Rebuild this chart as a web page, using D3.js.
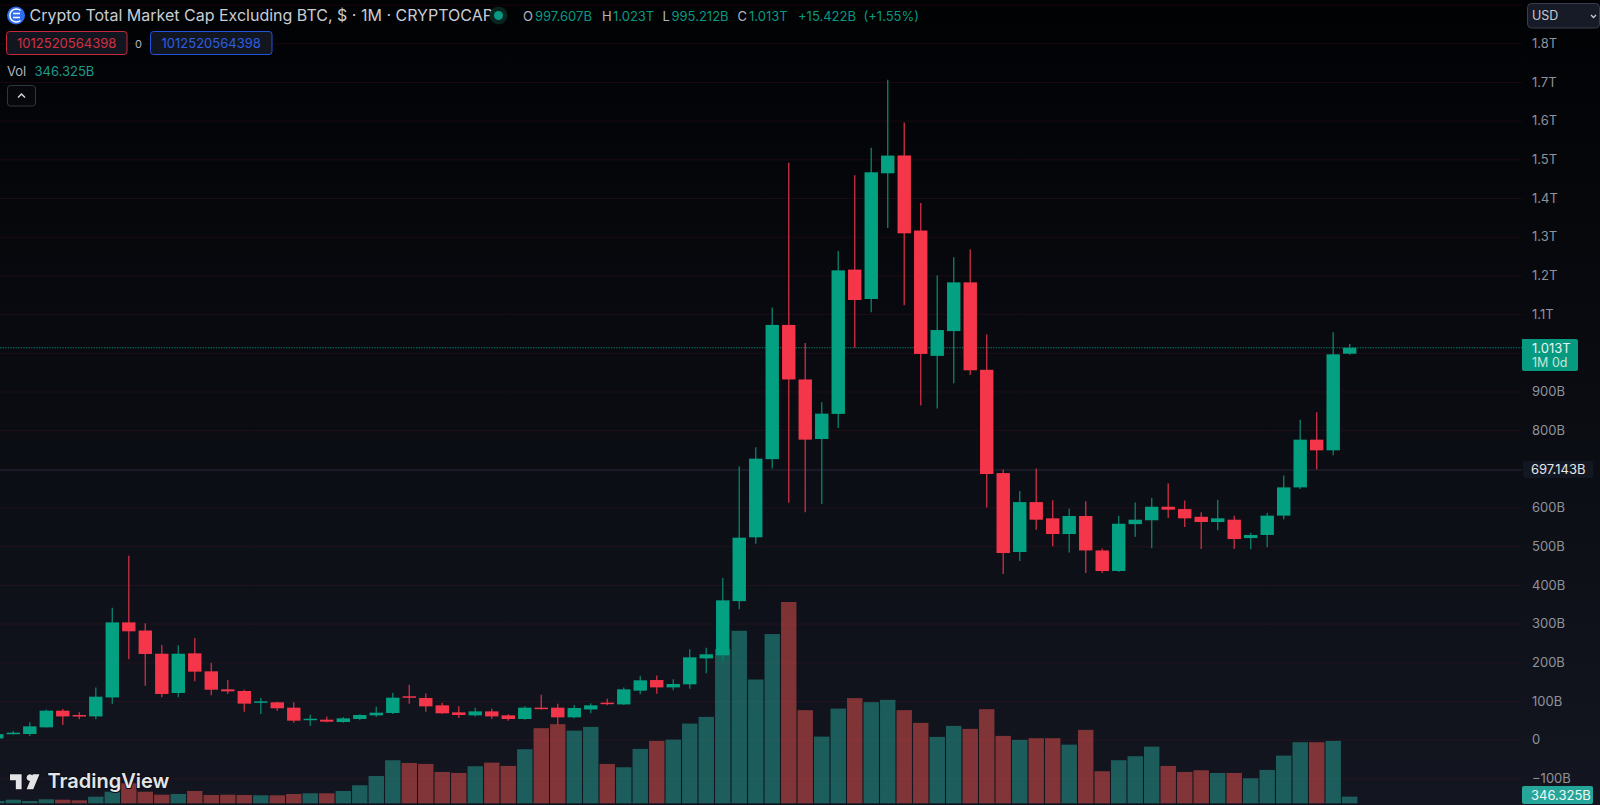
<!DOCTYPE html>
<html>
<head>
<meta charset="utf-8">
<title>Crypto Total Market Cap Excluding BTC</title>
<script src="https://cdn.jsdelivr.net/npm/d3@7"></script>
<style>
	html, body { margin: 0; padding: 0; background: #000; overflow: hidden; }
	svg { display: block; }
	text { font-family: Inter, "Noto Sans", sans-serif; }
</style>
</head>
<body>
<div id="chart"></div>
<script>
// monthly candles, values in billions, May 2017 -> Mar 2024
var opens = [3,14,14.5,31.7,74.8,63.6,60,109,303,282,222,120.5,223,176.5,130,125.7,95.5,96.4,82.6,50.7,51.5,45.5,53.3,62.7,68.8,
	112,107.6,88.6,70.5,62.7,73,62.7,53.3,82.6,82.6,57.6,78,95.5,91,126.5,154,135,142.9,210,218,358,523,725,1072,931,777,842,1215,
	1139,1464,1510,1316,992,1056,1182,956,689,485,614,572,531.5,578,489,436,557,567,602,596,576,562.5,568.5,521,529,579,652,775.4,747.8,997.6];
var highs = [16,22,44.6,78,79,70.5,135,341,475.6,300.7,244.6,243.8,262.7,198,154,129,107.6,98,96.4,64.5,60,58.4,65.3,85,121.4,
	142,119,95.5,86,82.6,80,65.3,86,116,93,89.5,93.8,105.8,135,165.3,166,155.8,233.4,237.7,418,706,755.6,1117,1491,1025,872,1263,1459,
	1530,1706,1595,1387,1200,1247,1267,1047,698,643,701,619,597,616,494,579,613,625,662.5,618,587.5,620,579,535,586.6,683,827,846,1053,1023];
var lows = [2,13,9.3,31,37.7,52.4,52.4,92,207.6,139.5,109.3,109.3,150.7,114.5,118,72.2,66.2,74.8,43.8,35,44.6,43.8,49.8,58.4,66.2,
	93,72.2,67,55.8,60,53.3,49,51.5,78,36.9,55,68,88.6,89.5,117,118.8,127.4,131.7,171.4,200.6,337,506.5,701,612,587.5,609,805.6,1013,
	1105,1322.6,1122.6,864,856,921,942.6,600,428,461.6,542.7,499.6,484,430.6,430.6,433,524.6,494.4,572.8,549.6,492.7,541,492.7,491.8,497,569.4,647.8,698.7,735,995.2];
var closes = [14,18,34.3,74.8,60,61,111,303,280,221.4,118,222,175.7,129,124.8,93,99,81,49,54,46.4,55,63.6,69.6,108.4,
	108.4,86,68,63.6,73,60,53.3,82.6,79,57.6,81.7,88.6,92,130,153.3,135,143.8,212.7,220.5,360,522,726.3,1072,931,775.4,842.7,1213,1136.4,
	1466.6,1509.7,1308.8,997,1058.8,1182,954.7,686.6,482.3,614,568.5,531.5,578,489,435.8,558,568.5,602,594.4,572,562.5,572,518.5,528.9,579,652,775.4,747.8,996,1013];
var volumes = [120,187,120,208,187,156,343,603,1040,603,447,484,640,432,447,432,416,416,484,520,520,640,936,1420,2236,
	2096,2044,1628,1576,1924,2111,1940,2808,3900,4108,3775,3968,2044,1872,2824,3240,3307,4139,4488,8008,8960,6427,8788,10452,
	4836,3463,4919,5460,5252,5372,4836,4176,3448,4020,3864,4888,3500,3292,
	3380,3380,3047,3812,1664,2236,2444,2943,1940,1628,1716,1576,1576,1300,1732,2475,3172,3172,3240,346];

var gridValues = [-100,0,100,200,300,400,500,600,700,800,900,1000,1100,1200,1300,1400,1500,1600,1700,1800,1900];
var tickValues = [1800,1700,1600,1500,1400,1300,1200,1100,900,800,600,500,400,300,200,100,0,-100];
var tickLabels = ['1.8T','1.7T','1.6T','1.5T','1.4T','1.3T','1.2T','1.1T','900B','800B','600B','500B','400B','300B','200B','100B','0','\u2212100B'];

var lastClose = 1013;
var markedLevel = 697.143;

var ohlcLabels = [
	{x:523, t:'O', c:'#b2b5be'},{x:535, t:'997.607B', c:'#089981'},
	{x:602, t:'H', c:'#b2b5be'},{x:613, t:'1.023T', c:'#089981'},
	{x:662.5, t:'L', c:'#b2b5be'},{x:671.5, t:'995.212B', c:'#089981'},
	{x:737.5, t:'C', c:'#b2b5be'},{x:749, t:'1.013T', c:'#089981'},
	{x:798, t:'+15.422B', c:'#089981'},{x:863.5, t:'(+1.55%)', c:'#089981'}
];

var width = 1600, height = 805, plotRight = 1522;
var upColor = '#04a082', downColor = '#f5364a';
var upWick = '#0b7a68', downWick = '#c22d40';

var svg = d3.select('#chart').append('svg')
	.attr('width',width)
	.attr('height',height);

var grad = svg.append('defs').append('linearGradient')
	.attr('id','bg')
	.attr('x1',0).attr('y1',0).attr('x2',0).attr('y2',1);
grad.append('stop').attr('offset','0%').attr('stop-color','#010204');
grad.append('stop').attr('offset','100%').attr('stop-color','#131620');

svg.append('rect')
	.attr('width',width)
	.attr('height',height)
	.attr('fill','url(#bg)');

var x = d3.scaleLinear().domain([0,opens.length-1]).range([-3.2,1349.7]);
var y = d3.scaleLinear().domain([-100,1800]).range([778.3,43.3]);
var yVol = d3.scaleLinear().domain([0,10452]).range([803.3,602]);
var bodyW = 13.4, volW = 15.4;

// grid
var gridAxis = d3.axisRight(y).tickValues(gridValues).tickSize(plotRight).tickFormat('');
var gridG = svg.append('g').call(gridAxis);
gridG.select('.domain').remove();
gridG.selectAll('line')
	.attr('stroke','#7a1e32')
	.attr('stroke-opacity',0.2);

// marked level and last price lines
svg.append('line')
	.attr('x1',0).attr('x2',plotRight)
	.attr('y1',y(markedLevel)).attr('y2',y(markedLevel))
	.attr('stroke','#1c1f2c')
	.attr('stroke-width',1.6);

// volume
svg.append('g').selectAll('rect')
	.data(volumes)
	.enter()
	.append('rect')
	.attr('x',function(d,i){return x(i)-volW/2;})
	.attr('y',function(d){return yVol(d);})
	.attr('width',volW)
	.attr('height',function(d){return yVol(0)-yVol(d);})
	.attr('fill',function(d,i){return closes[i]>=opens[i] ? '#26a69a' : '#ef5350';})
	.attr('fill-opacity',0.5);

svg.append('line')
	.attr('x1',0).attr('x2',plotRight)
	.attr('y1',y(lastClose)).attr('y2',y(lastClose))
	.attr('stroke','#089981')
	.attr('stroke-opacity',0.85)
	.attr('stroke-dasharray','1.3 1.3');

// candles
var candles = svg.append('g').selectAll('g')
	.data(opens)
	.enter()
	.append('g');

candles.append('line')
	.attr('x1',function(d,i){return x(i);})
	.attr('x2',function(d,i){return x(i);})
	.attr('y1',function(d,i){return y(highs[i]);})
	.attr('y2',function(d,i){return y(lows[i]);})
	.attr('stroke',function(d,i){return closes[i]>=d ? upWick : downWick;})
	.attr('stroke-width',1.4);

candles.append('rect')
	.attr('x',function(d,i){return x(i)-bodyW/2;})
	.attr('y',function(d,i){return y(Math.max(d,closes[i]));})
	.attr('width',bodyW)
	.attr('height',function(d,i){return Math.max(1.5,Math.abs(y(d)-y(closes[i])));})
	.attr('fill',function(d,i){return closes[i]>=d ? upColor : downColor;});

// price axis
var axisG = svg.append('g')
	.attr('transform','translate(1524,0)')
	.call(d3.axisRight(y).tickValues(tickValues).tickSize(0).tickPadding(8)
		.tickFormat(function(d,i){return tickLabels[i];}));
axisG.select('.domain').remove();
axisG.selectAll('text')
	.style('font-family','Inter, sans-serif')
	.style('font-size','13px')
	.attr('fill','#8f929c');

// axis tags
svg.append('path')
	.attr('d','M1522 339H1576a2 2 0 0 1 2 2V369a2 2 0 0 1 -2 2H1524a2 2 0 0 1 -2 -2Z')
	.attr('fill','#069a80');
svg.append('text').attr('x',1532).attr('y',352.5).attr('font-size',13).attr('fill','#e6f3f0').text('1.013T');
svg.append('text').attr('x',1532).attr('y',366.5).attr('font-size',12.5).attr('fill','#c4e6df').text('1M 0d');

svg.append('rect')
	.attr('x',1523).attr('y',461).attr('width',70).attr('height',17)
	.attr('rx',2)
	.attr('fill','#131722');
svg.append('text').attr('x',1531).attr('y',474).attr('font-size',13).attr('fill','#e4e6ea').text('697.143B');

svg.append('rect')
	.attr('x',1522).attr('y',786).attr('width',71).attr('height',18)
	.attr('rx',2)
	.attr('fill','#26a69a');
svg.append('text').attr('x',1531).attr('y',799.5).attr('font-size',13).attr('fill','#eef8f6').text('346.325B');

// currency box
svg.append('rect')
	.attr('x',1527.5).attr('y',3.5).attr('width',72).attr('height',24.5)
	.attr('rx',4)
	.attr('fill','#171b27')
	.attr('stroke','#3a3e4a');
svg.append('text').attr('x',1532).attr('y',20).attr('font-size',12.5).attr('fill','#c8cad2').text('USD');
svg.append('path')
	.attr('d','M1591 15l2.5 2.5l2.5 -2.5')
	.attr('fill','none')
	.attr('stroke','#c8cad2')
	.attr('stroke-width',1.3);

// header
svg.append('circle').attr('cx',16).attr('cy',15.5).attr('r',9).attr('fill','#2f6df0');
svg.append('path')
	.attr('d','M20.5 10.5a6.5 6.5 0 1 0 0 10M13 13.5h7M13 17.5h7')
	.attr('fill','none')
	.attr('stroke','#fff')
	.attr('stroke-width',1.5);
svg.append('text')
	.attr('x',29.5).attr('y',21)
	.attr('font-size',16)
	.attr('fill','#c9ccd3')
	.text('Crypto Total Market Cap Excluding BTC, $ \u00b7 1M \u00b7 CRYPTOCAP');

svg.append('circle').attr('cx',498.5).attr('cy',15.5).attr('r',9).attr('fill','#0a2420');
svg.append('circle').attr('cx',498.5).attr('cy',15.5).attr('r',4.5).attr('fill','#089981');

svg.append('g').selectAll('text')
	.data(ohlcLabels)
	.enter()
	.append('text')
	.attr('x',function(d){return d.x;})
	.attr('y',20.5)
	.attr('font-size',13)
	.attr('fill',function(d){return d.c;})
	.text(function(d){return d.t;});

// order boxes
svg.append('rect')
	.attr('x',6.5).attr('y',31.5).attr('width',120.5).attr('height',23)
	.attr('rx',3)
	.attr('fill','#121621')
	.attr('stroke','#c7293a');
svg.append('text').attr('x',66.7).attr('y',48).attr('text-anchor','middle').attr('font-size',13).attr('fill','#d62f42').text('1012520564398');
svg.append('text').attr('x',138.5).attr('y',48).attr('text-anchor','middle').attr('font-size',11).attr('fill','#b2b5be').text('0');
svg.append('rect')
	.attr('x',150.5).attr('y',31.5).attr('width',121.5).attr('height',23)
	.attr('rx',3)
	.attr('fill','#121621')
	.attr('stroke','#2553d8');
svg.append('text').attr('x',211.2).attr('y',48).attr('text-anchor','middle').attr('font-size',13).attr('fill','#2d5fe0').text('1012520564398');

// volume legend
svg.append('text').attr('x',7).attr('y',76).attr('font-size',13).attr('fill','#b2b5be').text('Vol');
svg.append('text').attr('x',34.5).attr('y',76).attr('font-size',13).attr('fill','#1f9a8e').text('346.325B');

svg.append('rect')
	.attr('x',7.5).attr('y',85.5).attr('width',28).attr('height',20.5)
	.attr('rx',3)
	.attr('fill','#07080c')
	.attr('stroke','#33363f');
svg.append('path')
	.attr('d','M18 97.5l3.5 -3.5l3.5 3.5')
	.attr('fill','none')
	.attr('stroke','#d1d4dc')
	.attr('stroke-width',1.5);

// watermark
svg.append('path')
	.attr('transform','translate(10,771) scale(0.83)')
	.attr('d','M14 22H7V11H0V4h14v18zM28 22h-8l7.5-18h8L28 22zM20 8a4 4 0 1 1 0 0.01z')
	.attr('fill','#e4e4e6')
	.attr('stroke','#0c0e14')
	.attr('stroke-width',2)
	.attr('paint-order','stroke');
svg.append('text')
	.attr('x',47.5).attr('y',788)
	.attr('font-size',20)
	.attr('font-weight',600)
	.attr('fill','#e4e4e6')
	.attr('stroke','#0c0e14')
	.attr('stroke-width',2)
	.attr('paint-order','stroke')
	.text('TradingView');
</script>
</body>
</html>
